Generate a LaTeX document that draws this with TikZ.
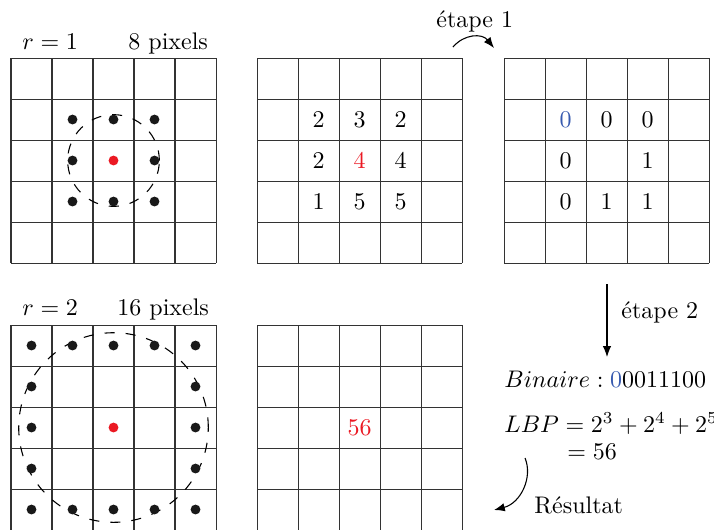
\documentclass[tikz,border=0pt]{standalone}
\usetikzlibrary{arrows.meta}
\definecolor{myblue}{RGB}{55,90,175}
\definecolor{myred}{RGB}{235,25,35}
\begin{document}
\begin{tikzpicture}[x=0.41667pt,y=-0.41667pt,
  gridline/.style={line width=0.42pt,draw=black!80},
  dot/.style={circle,fill=black!90,inner sep=0pt,minimum size=4.1pt},
  reddot/.style={dot,fill=myred},
  cnum/.style={inner sep=0pt},
  lbl/.style={inner sep=0pt,anchor=base west},
  arr/.style={line width=0.45pt,-{Latex[length=4.5pt,width=3.5pt]}},
  ring/.style={dash pattern=on 4.2pt off 4.6pt,line width=0.45pt}]
\useasboundingbox (0,0) rectangle (714,529);
\clip (0,0) rectangle (714,529);
% grids
\foreach \ox/\oy in {11/58,257/58,504/58,11/325,257/325}{
  \foreach \i in {0,...,5}{
    \draw[gridline] (\ox+41*\i,\oy) -- (\ox+41*\i,\oy+205);
    \draw[gridline] (\ox,\oy+41*\i) -- (\ox+205,\oy+41*\i);
  }
}
% grid 1: r = 1
\node[lbl] (r1) at (22,49) {$r=1$};
\node[lbl] (p1) at (128,49) {8 pixels};
\coordinate (c1) at (113.5,160.5);
\draw[ring] (c1) circle[radius=19.1pt];
\foreach \c/\r in {1/1,2/1,3/1,1/2,3/2,1/3,2/3,3/3}
  \node[dot] (da-\c-\r) at (11+41*\c+20.5,58+41*\r+20.5) {};
\node[reddot] (ca) at (c1) {};
% grid 4: r = 2
\node[lbl] (r2) at (22,315) {$r=2$};
\node[lbl] (p2) at (117,315) {16 pixels};
\coordinate (c4) at (113.5,427.5);
\draw[ring] (c4) circle[radius=39.5pt];
\foreach \c/\r in {0/0,1/0,2/0,3/0,4/0,0/1,4/1,0/2,4/2,0/3,4/3,0/4,1/4,2/4,3/4,4/4}
  \node[dot] (db-\c-\r) at (11+41*\c+20.5,325+41*\r+20.5) {};
\node[reddot] (cb) at (c4) {};
% grid 2 values
\foreach \c/\r/\v in {1/1/2,2/1/3,3/1/2,1/2/2,3/2/4,1/3/1,2/3/5,3/3/5}
  \node[cnum] (v-\c-\r) at (257+41*\c+20.5,58+41*\r+20.5) {$\v$};
\node[cnum,text=myred] (v-2-2) at (257+41*2+20.5,58+41*2+20.5) {$4$};
% grid 3 values
\node[cnum,text=myblue] (b-1-1) at (504+41*1+20.5,58+41*1+20.5) {$0$};
\foreach \c/\r/\v in {2/1/0,3/1/0,1/2/0,3/2/1,1/3/0,2/3/1,3/3/1}
  \node[cnum] (b-\c-\r) at (504+41*\c+20.5,58+41*\r+20.5) {$\v$};
% grid 5 value
\node[cnum,text=myred] (res) at (257+41*2+20.5,325+41*2+20.5) {$56$};
% step 1
\node[lbl] (e1) at (436,27) {étape 1};
\coordinate (a1s) at (453,47);
\coordinate (a1e) at (494,48);
\draw[arr] (a1s) .. controls (464,34) and (482,33) .. (a1e);
% step 2
\coordinate (a2s) at (607,284);
\coordinate (a2e) at (607,357);
\draw[arr] (a2s) -- (a2e);
\node[lbl] (e2) at (621,318) {étape 2};
% formulas
\node[lbl] (bin) at (504,387) {$Binaire:\textcolor{myblue}{0}0011100$};
\node[lbl] (lbp) at (504,432) {$LBP=2^3+2^4+2^5$};
\node[lbl] (eq) at (567,459) {$=56$};
% result
\coordinate (a3s) at (525,458);
\coordinate (a3e) at (494,510);
\draw[arr] (a3s) .. controls (533,477) and (521,503) .. (a3e);
\node[lbl] (rs) at (534,513) {Résultat};
\end{tikzpicture}
\end{document}
